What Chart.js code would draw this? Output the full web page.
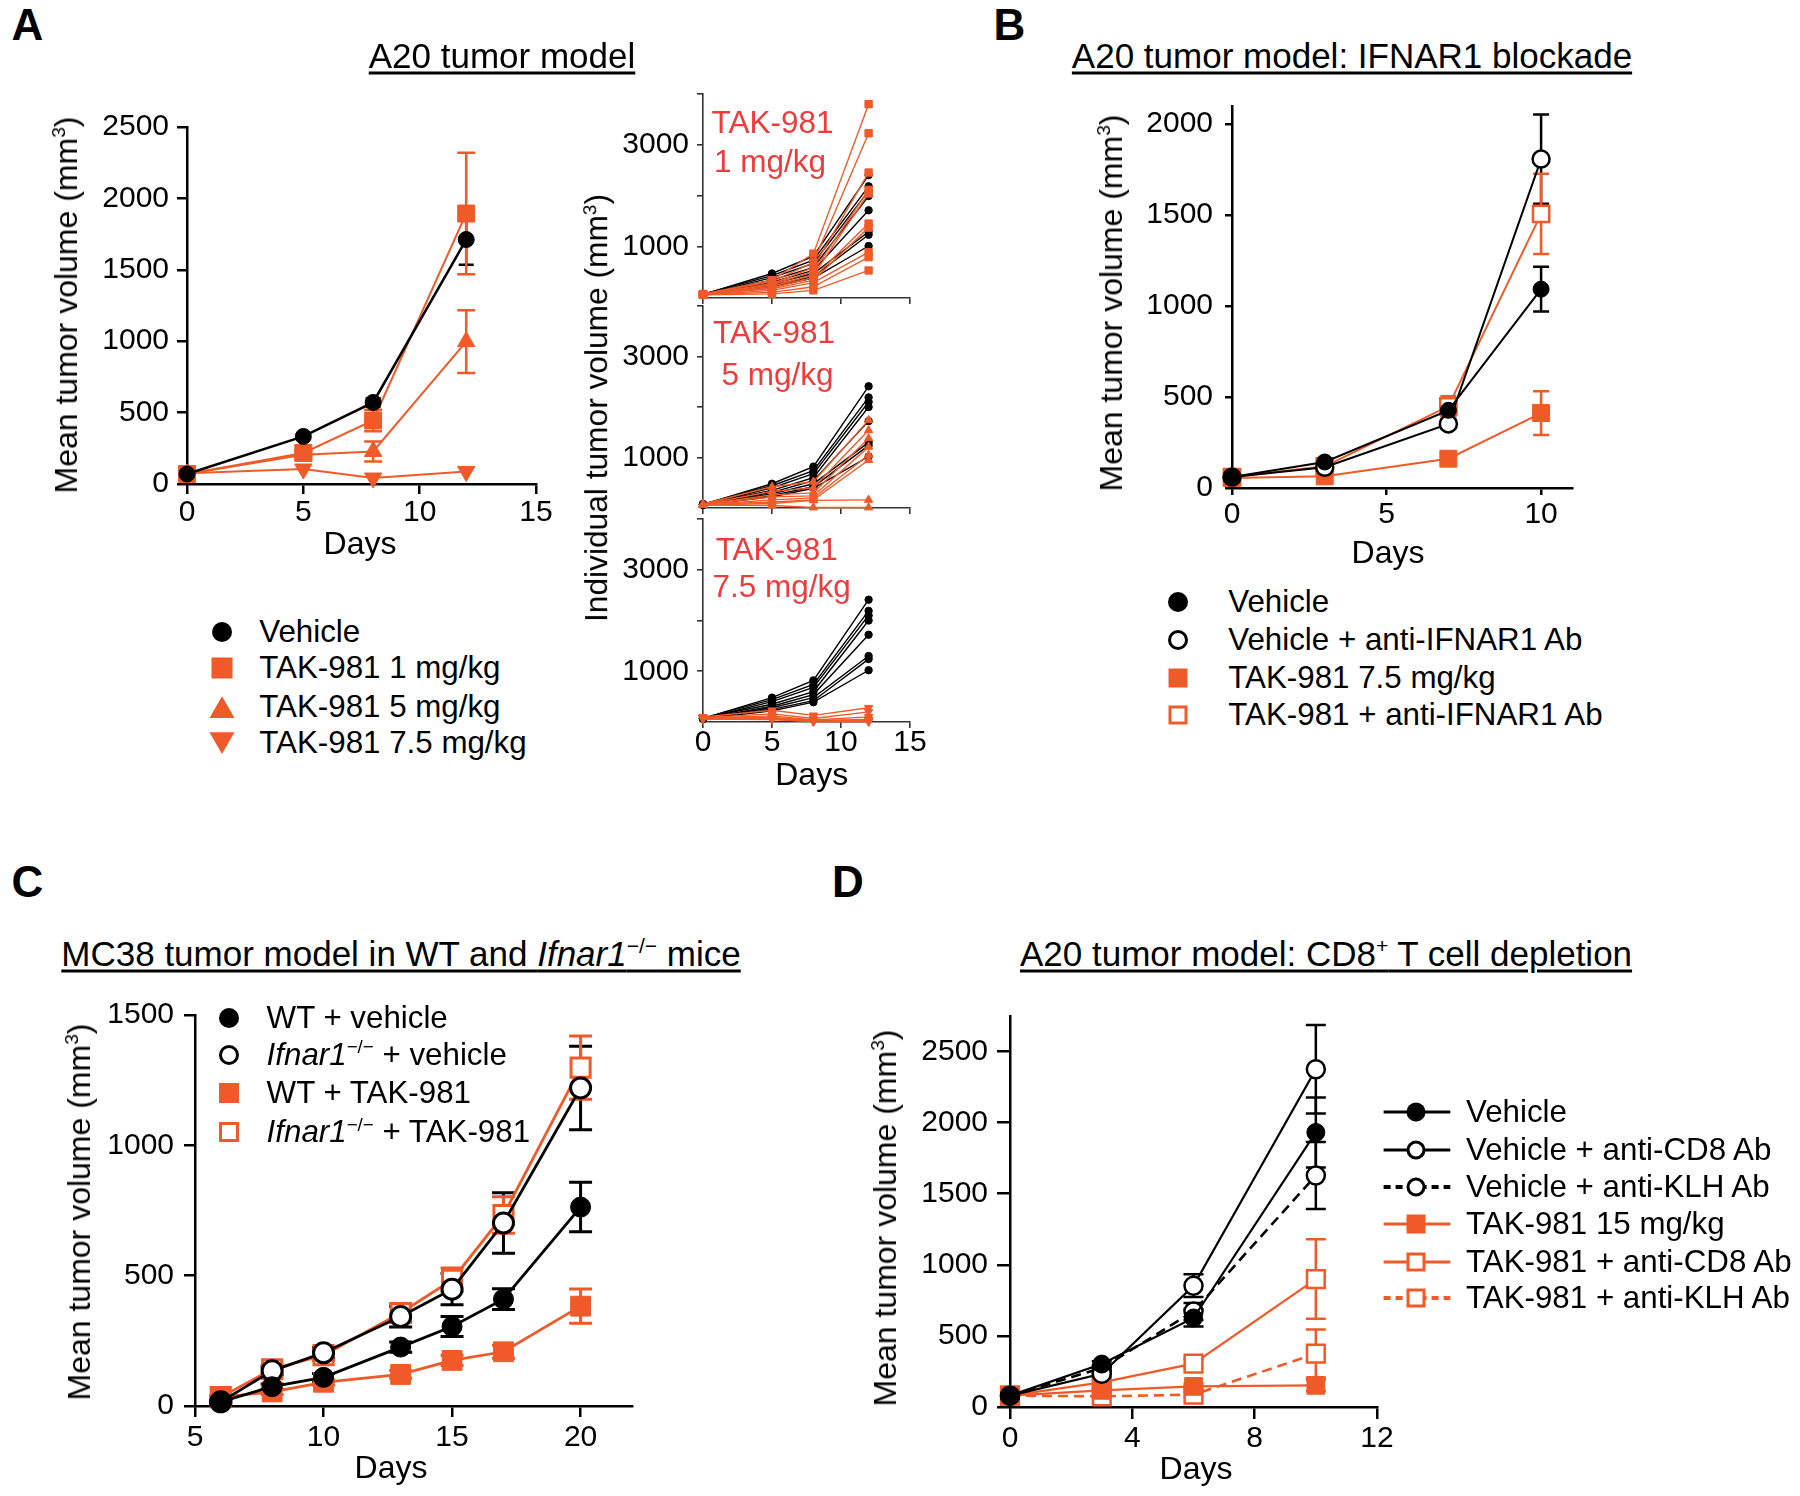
<!DOCTYPE html>
<html><head><meta charset="utf-8">
<script src="https://cdn.jsdelivr.net/npm/chart.js@4.4.1/dist/chart.umd.min.js"></script>
<style>
body{margin:0;width:1800px;height:1496px;background:#fff;position:relative;overflow:hidden;font-family:"Liberation Sans",Arial,sans-serif;color:#000}
canvas{position:absolute}
.t{position:absolute;white-space:nowrap;line-height:1;transform:translate(-50%,-50%)}
.l{position:absolute;white-space:nowrap;line-height:1;transform:translate(0,-50%)}
.r{position:absolute;white-space:nowrap;line-height:1;transform:translate(-50%,-50%) rotate(-90deg)}
.u{text-decoration:underline;text-decoration-thickness:2.5px;text-underline-offset:4px}
sup{font-size:0.6em;vertical-align:0;position:relative;top:-0.6em;line-height:0}
svg{position:absolute;overflow:visible}
</style></head><body>
<script>
// ---------------- DATA ----------------
// Panel A: mean tumour volume
const daysA = [0, 5, 8, 12];
const A_vehicle = [70, 333, 571, 1712];
const A_vehicle_err = [0, 15, 30, 177];
const A_tak1 = [70, 217, 445, 1894];
const A_tak1_err = [0, 20, 75, 425];
const A_tak5 = [70, 205, 228, 997];
const A_tak5_err = [0, 20, 70, 220];
const A_tak75 = [75, 105, 42, 88];
const A_tak75_err = [0, 0, 0, 0];

// Panel A: individual tumours (one value per mouse, per day)
const indDays = [0, 5, 8, 12];
const ind_veh_d0 = [70, 75, 65, 80, 60, 70, 75, 65];
const ind_veh_d5 = [480, 440, 400, 350, 310, 280, 250, 220];
const ind_veh_d8 = [820, 740, 680, 600, 540, 480, 420, 390];
const ind_veh_d12 = [2410, 2190, 2100, 2000, 1720, 1300, 1240, 1020];

const ind_tak1_d0 = [80, 75, 70, 70, 65, 70, 75, 60, 70, 65];
const ind_tak1_d5 = [350, 320, 280, 260, 230, 200, 180, 150, 110, 80];
const ind_tak1_d8 = [870, 700, 600, 520, 450, 400, 350, 300, 220, 150];
const ind_tak1_d12 = [3800, 3230, 2460, 2120, 2050, 1460, 1380, 900, 800, 540];

const ind_tak5_d0 = [80, 75, 70, 70, 65, 70, 60, 60];
const ind_tak5_d5 = [420, 330, 260, 220, 160, 120, 90, 50];
const ind_tak5_d8 = [520, 400, 300, 240, 200, 160, 150, 10];
const ind_tak5_d12 = [1740, 1540, 1380, 1210, 1050, 950, 160, 10];

const ind_tak75_d0 = [100, 90, 80, 80, 70, 70, 60, 60];
const ind_tak75_d5 = [230, 160, 120, 90, 70, 60, 60, 50];
const ind_tak75_d8 = [130, 70, 40, 30, 20, 20, 10, 10];
const ind_tak75_d12 = [280, 200, 100, 50, 30, 20, 10, 10];

// Panel B
const daysB = [0, 3, 7, 10];
const B_veh = [60, 143, 427, 1093];
const B_veh_err = [0, 15, 30, 123];
const B_vehIF = [60, 114, 352, 1808];
const B_vehIF_err = [0, 10, 25, 245];
const B_tak = [55, 64, 161, 412];
const B_tak_err = [0, 8, 15, 120];
const B_takIF = [60, 119, 449, 1507];
const B_takIF_err = [0, 15, 55, 220];

// Panel C
const daysC = [6, 8, 10, 13, 15, 17, 20];
const C_wtVeh = [16, 74, 110, 226, 305, 410, 763];
const C_wtVeh_err = [5, 10, 15, 20, 38, 40, 95];
const C_koVeh = [16, 135, 204, 343, 448, 702, 1220];
const C_koVeh_err = [5, 15, 20, 40, 60, 116, 160];
const C_wtTak = [34, 54, 91, 121, 175, 208, 383];
const C_wtTak_err = [5, 10, 10, 15, 20, 25, 66];
const C_koTak = [34, 141, 195, 357, 484, 733, 1298];
const C_koTak_err = [5, 15, 20, 35, 45, 70, 121];

// Panel D
const daysD = [0, 3, 6, 10];
const D_veh = [80, 302, 626, 1931];
const D_veh_err = [10, 20, 60, 246];
const D_vehCD8 = [80, 234, 853, 2376];
const D_vehCD8_err = [10, 20, 80, 311];
const D_vehKLH = [80, 274, 672, 1628];
const D_vehKLH_err = [10, 20, 60, 235];
const D_tak = [80, 117, 145, 152];
const D_tak_err = [10, 10, 20, 40];
const D_takCD8 = [80, 173, 305, 900];
const D_takCD8_err = [10, 15, 30, 280];
const D_takKLH = [80, 75, 87, 375];
const D_takKLH_err = [10, 10, 15, 170];

// Tick values
const ticksA_x = [0, 5, 10, 15];
const ticksA_y = [0, 500, 1000, 1500, 2000, 2500];
const ticksInd_x = [0, 5, 10, 15];
const ticksInd_y = [1000, 2000, 3000, 4000];
const labelsInd_y = [1000, 3000];
const ticksB_x = [0, 5, 10];
const ticksB_y = [0, 500, 1000, 1500, 2000];
const ticksC_x = [5, 10, 15, 20];
const ticksC_y = [0, 500, 1000, 1500];
const ticksD_x = [0, 4, 8, 12];
const ticksD_y = [0, 500, 1000, 1500, 2000, 2500];

// ---------------- STYLE ----------------
const FONT = '"Liberation Sans", Arial, sans-serif';
const OR = '#F05A28', BK = '#000000', LBL = '#EE3B3B';
Chart.defaults.font.family = FONT;
Chart.defaults.color = '#000';

const errPlugin = {
  id: 'errbars',
  beforeDatasetsDraw(chart) {
    const ctx = chart.ctx, xs = chart.scales.x, ys = chart.scales.y;
    chart.data.datasets.forEach((d) => {
      if (!d.errors) return;
      ctx.save();
      ctx.strokeStyle = d.borderColor; ctx.lineWidth = d.errWidth; ctx.setLineDash([]);
      d.data.forEach((p, j) => {
        const e = d.errors[j]; if (!e) return;
        const x = xs.getPixelForValue(p.x);
        const yt = ys.getPixelForValue(p.y + e), yb = ys.getPixelForValue(Math.max(0, p.y - e));
        const h = d.capWidth / 2;
        ctx.beginPath();
        ctx.moveTo(x, yt); ctx.lineTo(x, yb);
        ctx.moveTo(x - h, yt); ctx.lineTo(x + h, yt);
        ctx.moveTo(x - h, yb); ctx.lineTo(x + h, yb);
        ctx.stroke();
      });
      ctx.restore();
    });
  }
};

function ds(xs, ys, o) {
  return {
    data: xs.map((x, i) => ({ x: x, y: ys[i] })),
    borderColor: o.color, borderWidth: o.lw, borderDash: o.dash || [],
    pointStyle: o.shape, pointRadius: o.r, pointHoverRadius: o.r, pointRotation: o.rot || 0,
    pointBackgroundColor: o.open ? '#fff' : o.color, pointBorderColor: o.color,
    pointBorderWidth: o.open ? o.bw : 1,
    errors: o.err || null, capWidth: o.cap || 16, errWidth: o.ew || o.lw,
    clip: false, tension: 0, fill: false, showLine: true
  };
}

function axis(o, isX, size) {
  return {
    type: 'linear', position: isX ? 'bottom' : 'left', min: o.min, max: o.max,
    afterBuildTicks(s) { s.ticks = o.ticks.map(v => ({ value: v })); },
    afterFit(s) {
      if (isX) s.height = size; else s.width = size;
      s.paddingLeft = 0; s.paddingRight = 0; s.paddingTop = 0; s.paddingBottom = 0;
    },
    border: { display: true, color: o.color || '#000', width: o.lw || 2.5 },
    grid: { display: true, drawOnChartArea: false, drawTicks: true, tickLength: o.tl,
            color: o.color || '#000', lineWidth: o.lw || 2.5 },
    ticks: { padding: o.pad, display: o.show !== false,
             color: '#000', font: { family: FONT, size: 30, lineHeight: 1 },
             maxRotation: 0, minRotation: 0, autoSkip: false,
             callback: o.cb || (v => String(v)) }
  };
}

function makeChart(area, X, Y, datasets) {
  const yW = 130, xH = 70, pt = 30, pr = 40;
  const cv = document.createElement('canvas');
  const W = area.r - area.l + yW + pr, H = area.b - area.t + pt + xH;
  cv.width = W; cv.height = H;
  cv.style.left = (area.l - yW) + 'px'; cv.style.top = (area.t - pt) + 'px';
  cv.style.width = W + 'px'; cv.style.height = H + 'px';
  document.body.appendChild(cv);
  return new Chart(cv, {
    type: 'line',
    data: { datasets: datasets },
    options: {
      responsive: false, animation: false, devicePixelRatio: 1, events: [],
      layout: { padding: { top: pt, right: pr, left: 0, bottom: 0 } },
      plugins: { legend: { display: false }, tooltip: { enabled: false } },
      scales: { x: axis(X, true, xH), y: axis(Y, false, yW) }
    },
    plugins: [errPlugin]
  });
}

// ---------------- TEXT HELPERS ----------------
function txt(cls, html, x, y, css) {
  const d = document.createElement('div');
  d.className = cls; d.innerHTML = html;
  d.style.left = x + 'px'; d.style.top = y + 'px';
  Object.assign(d.style, css || {});
  document.body.appendChild(d);
  return d;
}
function svgAt(inner, cx, cy) {
  const ns = 'http://www.w3.org/2000/svg';
  const s = document.createElementNS(ns, 'svg');
  s.setAttribute('width', 80); s.setAttribute('height', 40);
  s.setAttribute('viewBox', '-40 -20 80 40');
  s.style.left = (cx - 40) + 'px'; s.style.top = (cy - 20) + 'px';
  s.innerHTML = inner;
  document.body.appendChild(s);
}
function mk(type, color, size, open, sw) {
  const h = size / 2;
  if (type === 'circle') {
    return open ? `<circle cx="0" cy="0" r="${h - sw / 2}" fill="#fff" stroke="${color}" stroke-width="${sw}"/>`
                : `<circle cx="0" cy="0" r="${h}" fill="${color}"/>`;
  }
  if (type === 'square') {
    return open ? `<rect x="${-h + sw / 2}" y="${-h + sw / 2}" width="${size - sw}" height="${size - sw}" fill="#fff" stroke="${color}" stroke-width="${sw}"/>`
                : `<rect x="${-h}" y="${-h}" width="${size}" height="${size}" fill="${color}"/>`;
  }
  if (type === 'tri') return `<polygon points="${-h},${h * 0.87} ${h},${h * 0.87} 0,${-h * 0.87}" fill="${color}"/>`;
  if (type === 'tridown') return `<polygon points="${-h},${-h * 0.87} ${h},${-h * 0.87} 0,${h * 0.87}" fill="${color}"/>`;
  return '';
}

// ---------------- PANEL A (mean) ----------------
makeChart({ l: 187, r: 536, t: 127, b: 484 },
  { min: 0, max: 15, ticks: ticksA_x, tl: 10, pad: 4 },
  { min: 0, max: 2500, ticks: ticksA_y, tl: 10, pad: 8 },
  [
    ds(daysA, A_vehicle, { color: BK, lw: 2.5, shape: 'circle', r: 8, err: A_vehicle_err, cap: 15, ew: 2.5 }),
    ds(daysA, A_tak1, { color: OR, lw: 2, shape: 'rect', r: 12, err: A_tak1_err, cap: 18, ew: 2.5 }),
    ds(daysA, A_tak5, { color: OR, lw: 2, shape: 'triangle', r: 10, err: A_tak5_err, cap: 18, ew: 2.5 }),
    ds(daysA, A_tak75, { color: OR, lw: 2, shape: 'triangle', rot: 180, r: 10, err: A_tak75_err, cap: 18, ew: 2.5 })
  ]);

// ---------------- PANEL A (individuals) ----------------
function indSets(cols, o) {
  const out = [];
  for (let k = 0; k < cols[0].length; k++) {
    out.push(ds(indDays, cols.map(c => c[k]), o));
  }
  return out;
}
const vehCols = [ind_veh_d0, ind_veh_d5, ind_veh_d8, ind_veh_d12];
const vehStyle = { color: BK, lw: 1.4, shape: 'circle', r: 3.7 };
const smallY = () => ({ min: 0, max: 4000, ticks: ticksInd_y, tl: 6, pad: 8, lw: 1.6, color: '#333',
  cb: v => labelsInd_y.includes(v) ? String(v) : '' });
const smallX = (show) => ({ min: 0, max: 15, ticks: ticksInd_x, tl: 6, pad: 0, lw: 1.6, color: '#333', show: show });

makeChart({ l: 703, r: 910, t: 94, b: 298 }, smallX(false), smallY(),
  indSets([ind_tak1_d0, ind_tak1_d5, ind_tak1_d8, ind_tak1_d12], { color: OR, lw: 1.4, shape: 'rect', r: 5.2 })
    .concat(indSets(vehCols, vehStyle)));
makeChart({ l: 703, r: 910, t: 306, b: 508 }, smallX(false), smallY(),
  indSets([ind_tak5_d0, ind_tak5_d5, ind_tak5_d8, ind_tak5_d12], { color: OR, lw: 1.4, shape: 'triangle', r: 4.8 })
    .concat(indSets(vehCols, vehStyle)));
makeChart({ l: 703, r: 910, t: 519, b: 722 }, smallX(true), smallY(),
  indSets([ind_tak75_d0, ind_tak75_d5, ind_tak75_d8, ind_tak75_d12], { color: OR, lw: 1.4, shape: 'triangle', rot: 180, r: 4.8 })
    .concat(indSets(vehCols, vehStyle)));

// ---------------- PANEL B ----------------
makeChart({ l: 1232, r: 1572, t: 106, b: 488 },
  { min: 0, max: 11, ticks: ticksB_x, tl: 7, pad: 5 },
  { min: 0, max: 2100, ticks: ticksB_y, tl: 7, pad: 12 },
  [
    ds(daysB, B_veh, { color: BK, lw: 2, shape: 'circle', r: 8, err: B_veh_err, cap: 16, ew: 2.5 }),
    ds(daysB, B_vehIF, { color: BK, lw: 2, shape: 'circle', r: 8.5, open: true, bw: 2.5, err: B_vehIF_err, cap: 16, ew: 2.5 }),
    ds(daysB, B_tak, { color: OR, lw: 2, shape: 'rect', r: 12, err: B_tak_err, cap: 16, ew: 2.5 }),
    ds(daysB, B_takIF, { color: OR, lw: 2, shape: 'rect', r: 11.5, open: true, bw: 2.5, err: B_takIF_err, cap: 16, ew: 2.5 })
  ]);

// ---------------- PANEL C ----------------
makeChart({ l: 195, r: 632, t: 1015, b: 1406 },
  { min: 5, max: 22, ticks: ticksC_x, tl: 11, pad: 6 },
  { min: 0, max: 1500, ticks: ticksC_y, tl: 11, pad: 10 },
  [
    ds(daysC, C_wtVeh, { color: BK, lw: 2.8, shape: 'circle', r: 10, err: C_wtVeh_err, cap: 23, ew: 3 }),
    ds(daysC, C_koVeh, { color: BK, lw: 2.8, shape: 'circle', r: 10, open: true, bw: 3, err: C_koVeh_err, cap: 23, ew: 3 }),
    ds(daysC, C_wtTak, { color: OR, lw: 2.8, shape: 'rect', r: 14, err: C_wtTak_err, cap: 23, ew: 3 }),
    ds(daysC, C_koTak, { color: OR, lw: 2.8, shape: 'rect', r: 13.5, open: true, bw: 3, err: C_koTak_err, cap: 23, ew: 3 })
  ]);

// ---------------- PANEL D ----------------
makeChart({ l: 1010, r: 1377, t: 1016, b: 1407 },
  { min: 0, max: 12, ticks: ticksD_x, tl: 12, pad: 5 },
  { min: 0, max: 2750, ticks: ticksD_y, tl: 13, pad: 9 },
  [
    ds(daysD, D_veh, { color: BK, lw: 2.2, shape: 'circle', r: 9, err: D_veh_err, cap: 20, ew: 2.5 }),
    ds(daysD, D_vehCD8, { color: BK, lw: 2.2, shape: 'circle', r: 9, open: true, bw: 2.5, err: D_vehCD8_err, cap: 20, ew: 2.5 }),
    ds(daysD, D_vehKLH, { color: BK, lw: 2.6, dash: [10, 6], shape: 'circle', r: 9, open: true, bw: 2.5, err: D_vehKLH_err, cap: 20, ew: 2.5 }),
    ds(daysD, D_tak, { color: OR, lw: 2.2, shape: 'rect', r: 12.5, err: D_tak_err, cap: 20, ew: 2.5 }),
    ds(daysD, D_takCD8, { color: OR, lw: 2.2, shape: 'rect', r: 12.5, open: true, bw: 2.5, err: D_takCD8_err, cap: 20, ew: 2.5 }),
    ds(daysD, D_takKLH, { color: OR, lw: 2.6, dash: [10, 6], shape: 'rect', r: 12.5, open: true, bw: 2.5, err: D_takKLH_err, cap: 20, ew: 2.5 })
  ]);

// ---------------- TEXT ----------------
const letterCss = { fontSize: '44px', fontWeight: 'bold' };
txt('t', 'A', 27.5, 24.5, letterCss);
txt('t', 'B', 1009.5, 24.5, letterCss);
txt('t', 'C', 27.5, 881.5, letterCss);
txt('t', 'D', 848, 881.5, letterCss);

const titleCss = { fontSize: '35px' };
txt('t u', 'A20 tumor model', 502, 55, titleCss);
txt('t u', 'A20 tumor model: IFNAR1 blockade', 1352, 55, titleCss);
txt('t u', 'MC38 tumor model in WT and <i>Ifnar1</i><sup>\u2212/\u2212</sup> mice', 401, 953, titleCss);
txt('t u', 'A20 tumor model: CD8<sup>+</sup> T cell depletion', 1326, 953, titleCss);

const axCss = { fontSize: '32px' };
const legCss = { fontSize: '31.3px' };
const ytitle = 'Mean tumor volume (mm<sup>3</sup>)';
txt('r', ytitle, 66, 305, axCss);
txt('r', 'Individual tumor volume (mm<sup>3</sup>)', 597, 408, { fontSize: '31.7px' });
txt('r', ytitle, 1111, 303, axCss);
txt('r', ytitle, 79, 1212, axCss);
txt('r', ytitle, 885, 1218, axCss);
txt('t', 'Days', 360, 543, axCss);
txt('t', 'Days', 811.7, 774, axCss);
txt('t', 'Days', 1388, 552, axCss);
txt('t', 'Days', 391, 1467, axCss);
txt('t', 'Days', 1196, 1468, axCss);

const lblCss = { fontSize: '31.5px', color: LBL };
txt('t', 'TAK-981', 772.5, 123, lblCss); txt('t', '1 mg/kg', 770, 161.7, lblCss);
txt('t', 'TAK-981', 774, 333.3, lblCss); txt('t', '5 mg/kg', 777.5, 375, lblCss);
txt('t', 'TAK-981', 776.7, 550, lblCss); txt('t', '7.5 mg/kg', 781.7, 586.7, lblCss);

// Legend A
const legA = [['circle', BK, 'Vehicle'], ['square', OR, 'TAK-981 1 mg/kg'], ['tri', OR, 'TAK-981 5 mg/kg'], ['tridown', OR, 'TAK-981 7.5 mg/kg']];
const legAy = [631.7, 668.3, 706.7, 743.3];
legA.forEach((e, i) => {
  const sz = e[0] === 'circle' ? 20 : e[0] === 'square' ? 21 : 25;
  svgAt(mk(e[0], e[1], sz, false), 221.7, legAy[i]);
  txt('l', e[2], 259.3, legAy[i], legCss);
});

// Legend B
const legB = [['circle', BK, false, 'Vehicle'], ['circle', BK, true, 'Vehicle + anti-IFNAR1 Ab'], ['square', OR, false, 'TAK-981 7.5 mg/kg'], ['square', OR, true, 'TAK-981 + anti-IFNAR1 Ab']];
const legBy = [602.3, 640, 677.7, 715];
legB.forEach((e, i) => {
  svgAt(mk(e[0], e[1], e[0] === 'circle' ? 20 : 19, e[2], 3), 1178.3, legBy[i]);
  txt('l', e[3], 1228.3, legBy[i], legCss);
});

// Legend C
const legC = [['circle', BK, false, 'WT + vehicle'], ['circle', BK, true, '<i>Ifnar1</i><sup>\u2212/\u2212</sup> + vehicle'], ['square', OR, false, 'WT + TAK-981'], ['square', OR, true, '<i>Ifnar1</i><sup>\u2212/\u2212</sup> + TAK-981']];
const legCy = [1017.9, 1054.7, 1093.3, 1131.9];
legC.forEach((e, i) => {
  svgAt(mk(e[0], e[1], 20, e[2], 3), 229.4, legCy[i]);
  txt('l', e[3], 266.6, legCy[i], legCss);
});

// Legend D
const legD = [['circle', BK, false, false, 'Vehicle'], ['circle', BK, true, false, 'Vehicle + anti-CD8 Ab'], ['circle', BK, true, true, 'Vehicle + anti-KLH Ab'],
              ['square', OR, false, false, 'TAK-981 15 mg/kg'], ['square', OR, true, false, 'TAK-981 + anti-CD8 Ab'], ['square', OR, true, true, 'TAK-981 + anti-KLH Ab']];
const legDy = [1112.3, 1150, 1187.3, 1224.3, 1261.7, 1298.3];
legD.forEach((e, i) => {
  const cx = 1415.7;
  const x1 = 1383.3 - cx, x2 = 1450 - cx;
  const line = e[3]
    ? `<line x1="${x1}" y1="0" x2="${x2}" y2="0" stroke="${e[1]}" stroke-width="4" stroke-dasharray="7 5"/>`
    : `<line x1="${x1}" y1="0" x2="${x2}" y2="0" stroke="${e[1]}" stroke-width="3"/>`;
  svgAt(line + mk(e[0], e[1], 19, e[2], 3), cx, legDy[i]);
  txt('l', e[4], 1466, legDy[i], legCss);
});
</script>
</body></html>
